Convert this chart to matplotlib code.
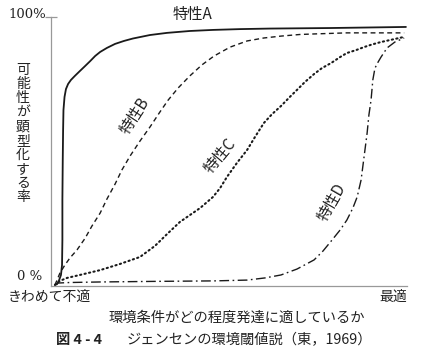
import matplotlib
matplotlib.use("Agg")
import matplotlib.pyplot as plt

plt.rcParams['font.family'] = ['Noto Sans CJK JP', 'DejaVu Sans']

# Data (x: environment suitability 0-100, y: probability of manifestation %)
a_x = [1.1, 1.7, 2.2, 2.8, 3.1, 3.2, 3.2, 3.3, 3.4, 3.5, 3.8, 4.2, 4.8, 5.6, 6.7, 8.1, 9.6, 11.0,
       12.4, 13.8, 15.7, 18.0, 20.5, 23.0, 27.8, 32.6, 39.0, 45.5, 53.1, 61.5, 78.4, 99.7]
a_y = [0.4, 0.7, 1.9, 4.1, 7.8, 17.1, 32.0, 46.8, 58.0, 65.4, 70.3, 73.2, 75.1, 76.6, 78.1, 79.9, 81.8, 83.6,
       85.5, 87.0, 88.5, 90.0, 91.1, 92.0, 93.3, 94.1, 94.8, 95.2, 95.5, 95.7, 95.9, 96.3]

b_x = [1.1, 1.7, 2.5, 3.9, 5.3, 7.3, 9.6, 11.5, 13.8, 15.7, 18.0, 19.9, 22.2, 25.0, 27.8, 30.6, 32.9,
       35.7, 39.0, 42.4, 45.8, 50.3, 55.1, 59.8, 64.6, 69.9, 73.9, 83.1, 99.2]
b_y = [0.4, 2.2, 4.8, 7.8, 10.4, 13.4, 17.8, 22.3, 27.1, 32.3, 37.9, 43.1, 48.3, 53.9, 59.1, 64.7, 69.1,
       73.6, 78.1, 82.2, 85.5, 88.8, 91.1, 92.2, 92.9, 93.5, 93.7, 94.1, 94.1]

c_x = [1.1, 2.5, 4.5, 8.1, 13.8, 19.4, 25.0, 29.2, 32.6, 36.2, 41.9, 45.5, 47.5, 49.4, 52.2, 55.1, 57.3,
       59.8, 62.1, 64.6, 67.1, 69.1, 71.3, 73.9, 76.1, 78.7, 81.2, 83.1, 85.7, 87.9, 90.2, 92.7, 95.8, 99.2]
c_y = [0.4, 1.9, 3.0, 4.1, 5.9, 8.2, 10.8, 14.9, 19.3, 23.8, 29.0, 33.1, 36.4, 40.5, 45.7, 50.6, 55.4,
       60.6, 63.9, 66.9, 70.3, 72.9, 75.8, 78.8, 81.0, 82.9, 85.1, 86.6, 87.7, 88.8, 89.8, 90.7, 91.6, 92.6]

d_x = [1.1, 2.0, 5.3, 13.8, 27.8, 45.8, 55.1, 60.1, 64.6, 69.1, 73.9, 76.4, 78.7, 81.2, 83.1, 84.8, 86.0,
       87.1, 87.9, 88.8, 89.3, 89.9, 90.4, 91.0, 91.9, 92.7, 94.4, 96.6, 99.2]
d_y = [0.4, 1.1, 1.3, 1.5, 1.7, 1.9, 2.2, 3.0, 4.1, 6.3, 9.7, 13.0, 16.7, 20.8, 24.5, 29.0, 33.1,
       39.4, 47.6, 56.9, 63.6, 69.1, 76.6, 81.0, 83.3, 85.1, 88.5, 90.7, 92.2]

series_labels = ['特性A', '特性B', '特性C', '特性D']
y_ticks = ['0 %', '100%']
x_ends = ['きわめて不適', '最適']
y_title = '可能性が顕型化する率'
x_title = '環境条件がどの程度発達に適しているか'
caption_num = '図 4 - 4'
caption_txt = 'ジェンセンの環境閾値説（東，1969）'

W, H = 428, 356
fig = plt.figure(figsize=(W/100, H/100), dpi=100)
fig.patch.set_facecolor('white')

def P(x, y):
    return (x / W, 1 - y / H)

L, R, T, B = 51, 407, 17, 286
ax = fig.add_axes([L/W, 1 - B/H, (R-L)/W, (B-T)/H])
ax.set_xlim(0, 100)
ax.set_ylim(0, 100)
for s in ['top', 'right']:
    ax.spines[s].set_visible(False)
for s in ['left', 'bottom']:
    ax.spines[s].set_color('#999999')
    ax.spines[s].set_linewidth(0.9)
ax.set_xticks([])
ax.set_yticks([100])
ax.set_yticklabels([''])
ax.tick_params(axis='y', direction='inout', length=8, color='#999999', width=0.9)
ax.patch.set_alpha(0)

ink = '#1a1a1a'
ax.plot(a_x, a_y, color=ink, lw=1.3, solid_capstyle='round', solid_joinstyle='round')
ax.plot(b_x, b_y, color=ink, lw=1.0, dashes=(3.5, 2.5))
ax.plot(c_x, c_y, color=ink, lw=1.5, dashes=(0.6, 1.6), dash_capstyle='round')
ax.plot(d_x, d_y, color=ink, lw=1.0, dashes=(7, 2.5, 1.2, 2.5))

txt = '#222222'
fs = 10
fig.text(*P(192, 14), series_labels[0], fontsize=11, color=txt, ha='center', va='center')
fig.text(*P(135, 116), series_labels[1], fontsize=11, color=txt, ha='center', va='center', rotation=57)
fig.text(*P(220, 156), series_labels[2], fontsize=11, color=txt, ha='center', va='center', rotation=50)
fig.text(*P(332, 202), series_labels[3], fontsize=11, color=txt, ha='center', va='center', rotation=60)

fig.text(*P(46, 15), y_ticks[1], fontsize=9.5, color=txt, ha='right', va='center',
         family=['DejaVu Serif'])
fig.text(*P(42, 276), y_ticks[0], fontsize=9.5, color=txt, ha='right', va='center',
         family=['DejaVu Serif'])

# vertical stacked y title
ytop, ybot = 70, 197
n = len(y_title)
for i, ch in enumerate(y_title):
    yy = ytop + (ybot - ytop) * i / (n - 1)
    fig.text(*P(23, yy), ch, fontsize=fs, color=txt, ha='center', va='center')

fig.text(*P(8, 297), x_ends[0], fontsize=fs, color=txt, ha='left', va='center')
fig.text(*P(407, 297), x_ends[1], fontsize=fs, color=txt, ha='right', va='center')
fig.text(*P(237, 318), x_title, fontsize=10.3, color=txt, ha='center', va='center')
fig.text(*P(56, 340), caption_num, fontsize=10.3, color=txt, ha='left', va='center', weight='bold')
fig.text(*P(127, 340), caption_txt, fontsize=10.3, color=txt, ha='left', va='center')

fig.savefig('out.png', dpi=100, facecolor='white')
